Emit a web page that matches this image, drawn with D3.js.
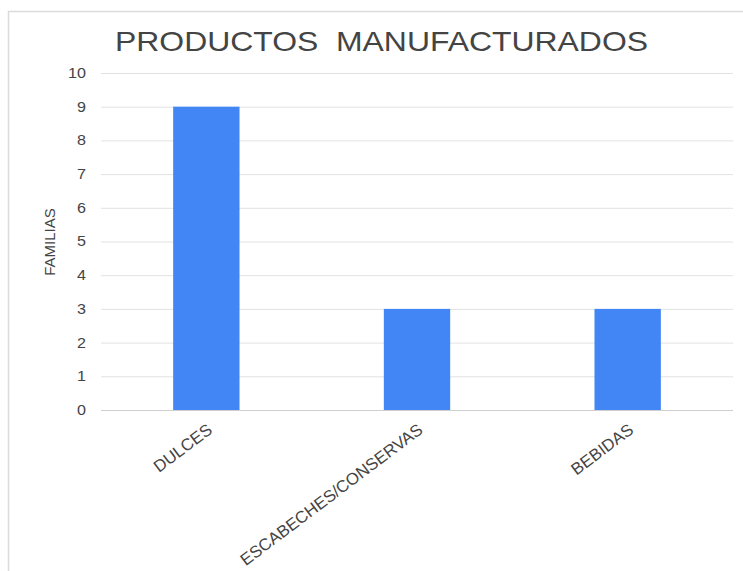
<!DOCTYPE html>
<html>
<head>
<meta charset="utf-8">
<script src="https://cdn.jsdelivr.net/npm/d3@7"></script>
<style>
  body { margin: 0; background: #fff; }
  svg { display: block; font-family: Arial, "Liberation Sans", sans-serif; }
  .tick-label { fill: #444; font-size: 14px; }
  .cat-label { fill: #444; font-size: 16.8px; }
</style>
</head>
<body>
<svg width="743" height="571"></svg>
<script>
// --- Data ---
const categories = ["DULCES", "ESCABECHES/CONSERVAS", "BEBIDAS"];
const values = [9, 3, 3];
const yTicks = [0, 1, 2, 3, 4, 5, 6, 7, 8, 9, 10];
const title = "PRODUCTOS  MANUFACTURADOS";
const yTitle = "FAMILIAS";

const svg = d3.select("svg");

// frame of the original chart (left and top edges visible)
svg.append("path")
  .attr("d", "M8.5,571 V11.5 H743")
  .attr("fill", "none")
  .attr("stroke", "#dcdcdc")
  .attr("stroke-width", 1.5);

const plotL = 101, plotR = 733, plotT = 73, plotB = 410;

const x = d3.scaleBand().domain(categories).range([plotL, plotR]).padding(0);
const y = d3.scaleLinear().domain([0, 10]).range([plotB, plotT]);
const barW = x.bandwidth() * 0.315;

// the source picture is a bit wider than tall, so text is stretched a little
function widen(sel, k) {
  sel.each(function() {
    const w = this.getComputedTextLength();
    d3.select(this).attr("textLength", w * k).attr("lengthAdjust", "spacingAndGlyphs");
  });
}

// gridlines
svg.append("g")
  .selectAll("line")
  .data(yTicks)
  .join("line")
  .attr("x1", plotL).attr("x2", plotR)
  .attr("y1", d => y(d) + 0.5).attr("y2", d => y(d) + 0.5)
  .attr("stroke", d => d === 0 ? "#cfcfcf" : "#e2e2e2");

// y tick labels
svg.append("g")
  .selectAll("text")
  .data(yTicks)
  .join("text")
  .attr("class", "tick-label")
  .attr("x", 86)
  .attr("y", d => y(d))
  .attr("dy", "0.35em")
  .attr("text-anchor", "end")
  .text(d => d)
  .call(widen, 1.15);

// bars
svg.append("g")
  .selectAll("rect")
  .data(values)
  .join("rect")
  .attr("x", (d, i) => x(categories[i]) + x.bandwidth() / 2 - barW / 2)
  .attr("width", barW)
  .attr("y", d => y(d))
  .attr("height", d => y(0) - y(d))
  .attr("fill", "#4285f4");

// x labels, slanted
svg.append("g")
  .selectAll("text")
  .data(categories)
  .join("text")
  .attr("class", "cat-label")
  .attr("text-anchor", "end")
  .attr("transform", d => `translate(${x(d) + x.bandwidth() / 2 + 7},${plotB + 22}) rotate(-37)`)
  .text(d => d);

// title
svg.append("text")
  .attr("x", 381.5)
  .attr("y", 51)
  .attr("text-anchor", "middle")
  .attr("xml:space", "preserve")
  .style("white-space", "pre")
  .attr("fill", "#444")
  .attr("font-size", 28)
  .attr("textLength", 533)
  .attr("lengthAdjust", "spacingAndGlyphs")
  .text(title);

// y axis title
svg.append("text")
  .attr("transform", `translate(55,242) rotate(-90)`)
  .attr("text-anchor", "middle")
  .attr("fill", "#444")
  .attr("font-size", 15)
  .text(yTitle);
</script>
</body>
</html>
